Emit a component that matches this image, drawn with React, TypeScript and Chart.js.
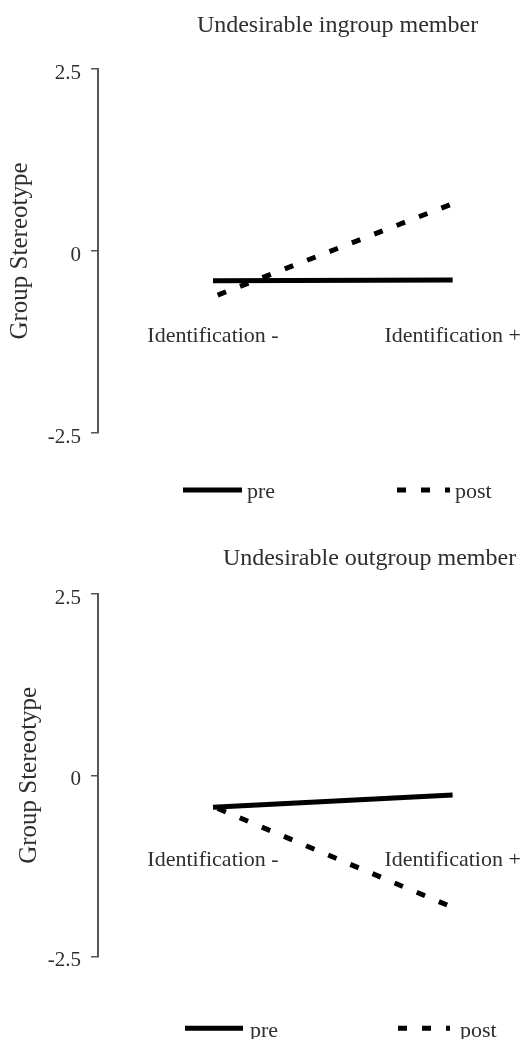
import React, { useEffect, useRef } from 'react';
import { Chart, registerables } from 'chart.js';

Chart.register(...registerables);

// ---------- data ----------
const categories = ['Identification -', 'Identification +'];
const categoryPositions = [1, 2];
const yTickValues = [-2.5, 0, 2.5];
const seriesNames = ['pre', 'post'];
const yAxisTitle = 'Group Stereotype';
const ingroupTitle = 'Undesirable ingroup member';
const outgroupTitle = 'Undesirable outgroup member';
const ingroupPre = [-0.41, -0.4];
const ingroupPost = [-0.63, 0.65];
const outgroupPre = [-0.44, -0.27];
const outgroupPost = [-0.43, -1.82];

// ---------- styles ----------
const FONT = "'Liberation Serif', 'Times New Roman', serif";
const TEXT = '#2e2e2e';
const AXIS = '#555555';

const placedTitle = {
  id: 'placedTitle',
  afterDraw(chart: any, _args: any, opts: any) {
    if (!opts || !opts.text) return;
    const ctx = chart.ctx;
    ctx.save();
    ctx.font = `${opts.size}px ${FONT}`;
    ctx.fillStyle = opts.color;
    ctx.textAlign = 'center';
    ctx.textBaseline = 'alphabetic';
    ctx.fillText(opts.text, opts.x, opts.y);
    ctx.restore();
  },
};

const lineLegend = {
  id: 'lineLegend',
  afterDraw(chart: any, _args: any, opts: any) {
    if (!opts || !opts.xs) return;
    const ctx = chart.ctx;
    chart.data.datasets.forEach((ds: any, i: number) => {
      const x = opts.xs[i];
      const w = opts.widths[i];
      ctx.save();
      ctx.strokeStyle = ds.borderColor;
      ctx.lineWidth = opts.lineWidth;
      ctx.lineCap = 'butt';
      ctx.setLineDash(ds.borderDash || []);
      ctx.beginPath();
      ctx.moveTo(x, opts.y);
      ctx.lineTo(x + w, opts.y);
      ctx.stroke();
      ctx.setLineDash([]);
      ctx.font = `${opts.size}px ${FONT}`;
      ctx.fillStyle = opts.color;
      ctx.textAlign = 'left';
      ctx.textBaseline = 'alphabetic';
      ctx.fillText(ds.label, x + w + opts.gaps[i], opts.textY);
      ctx.restore();
    });
  },
};

type Layout = {
  title: string;
  titleX: number;
  titleY: number;
  padTop: number;
  padBottom: number;
  yTitlePadTop: number;
  legendXs: number[];
  legendWidths: number[];
  legendGaps: number[];
  legendY: number;
  legendTextY: number;
};

function makeConfig(pre: number[], post: number[], L: Layout): any {
  return {
    type: 'line',
    data: {
      datasets: [
        {
          label: seriesNames[0],
          data: categoryPositions.map((x, i) => ({ x, y: pre[i] })),
          borderColor: '#000000',
          backgroundColor: '#000000',
          borderWidth: 5,
          borderCapStyle: 'butt',
          pointRadius: 0,
          fill: false,
          tension: 0,
        },
        {
          label: seriesNames[1],
          data: categoryPositions.map((x, i) => ({ x, y: post[i] })),
          borderColor: '#000000',
          backgroundColor: '#000000',
          borderWidth: 5,
          borderDash: [9, 15],
          borderDashOffset: 19,
          borderCapStyle: 'butt',
          pointRadius: 0,
          fill: false,
          tension: 0,
        },
      ],
    },
    options: {
      responsive: false,
      animation: false,
      events: [],
      layout: { padding: { top: L.padTop, bottom: L.padBottom, left: 0, right: 7.5 } },
      scales: {
        x: {
          type: 'linear',
          min: 0.52,
          max: 2.3,
          position: { y: -0.95 },
          grid: { display: false, drawTicks: false },
          border: { display: false },
          afterBuildTicks: (s: any) => {
            s.ticks = categoryPositions.map((v) => ({ value: v }));
          },
          afterFit: (s: any) => {
            s.height = 0;
          },
          ticks: {
            autoSkip: false,
            maxRotation: 0,
            padding: 3,
            color: TEXT,
            font: { family: FONT, size: 22 },
            callback: (v: any) => {
              const idx = categoryPositions.indexOf(Number(v));
              return idx >= 0 ? categories[idx] : '';
            },
          },
        },
        y: {
          type: 'linear',
          position: 'left',
          min: -2.5,
          max: 2.5,
          afterBuildTicks: (s: any) => {
            s.ticks = yTickValues.map((v) => ({ value: v }));
          },
          afterFit: (s: any) => {
            s.width = 98;
          },
          grid: {
            display: true,
            drawOnChartArea: false,
            drawTicks: true,
            tickLength: 7,
            color: AXIS,
            lineWidth: 1.5,
          },
          border: { display: true, color: AXIS, width: 2 },
          ticks: {
            padding: 10,
            labelOffset: 4,
            color: TEXT,
            font: { family: FONT, size: 21 },
          },
          title: {
            display: true,
            text: yAxisTitle,
            color: TEXT,
            font: { family: FONT, size: 25 },
            padding: { top: L.yTitlePadTop, bottom: 0 },
          },
        },
      },
      plugins: {
        legend: { display: false },
        title: { display: false },
        tooltip: { enabled: false },
        placedTitle: { text: L.title, x: L.titleX, y: L.titleY, size: 24, color: TEXT },
        lineLegend: {
          xs: L.legendXs,
          widths: L.legendWidths,
          gaps: L.legendGaps,
          y: L.legendY,
          textY: L.legendTextY,
          lineWidth: 5,
          size: 22,
          color: TEXT,
        },
      },
    },
    plugins: [placedTitle, lineLegend],
  };
}

function ChartCanvas({ config, width, height }: { config: any; width: number; height: number }) {
  const ref = useRef<HTMLCanvasElement | null>(null);
  useEffect(() => {
    if (!ref.current) return;
    const chart = new Chart(ref.current, config);
    return () => chart.destroy();
  }, [config]);
  return <canvas ref={ref} width={width} height={height} style={{ display: 'block', width, height }} />;
}

const topLayout: Layout = {
  title: ingroupTitle,
  titleX: 337.5,
  titleY: 31.5,
  padTop: 69,
  padBottom: 87,
  yTitlePadTop: 5,
  legendXs: [183, 397],
  legendWidths: [59, 53],
  legendGaps: [5, 5],
  legendY: 490,
  legendTextY: 498,
};

const bottomLayout: Layout = {
  title: outgroupTitle,
  titleX: 369.5,
  titleY: 45,
  padTop: 74,
  padBottom: 82.3,
  yTitlePadTop: 14,
  legendXs: [185, 398],
  legendWidths: [58, 52],
  legendGaps: [7, 10],
  legendY: 508.3,
  legendTextY: 516.5,
};

const topConfig = makeConfig(ingroupPre, ingroupPost, topLayout);
const bottomConfig = makeConfig(outgroupPre, outgroupPost, bottomLayout);

export default function App() {
  return (
    <div
      style={{
        position: 'absolute',
        left: 0,
        top: 0,
        width: 532,
        height: 1039,
        background: '#ffffff',
        overflow: 'hidden',
      }}
    >
      <ChartCanvas config={topConfig} width={532} height={520} />
      <ChartCanvas config={bottomConfig} width={532} height={519} />
    </div>
  );
}
